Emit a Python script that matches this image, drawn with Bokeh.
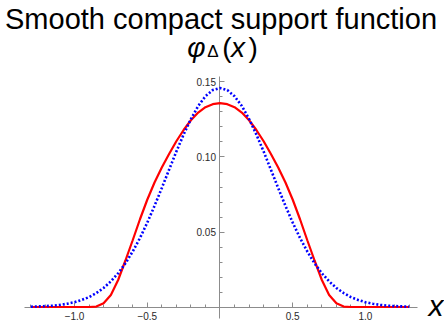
from bokeh.plotting import figure
from bokeh.models import FixedTicker, Label, Range1d
from bokeh.embed import file_html
from bokeh.resources import INLINE

# sample positions
x_vals = [-1.3, -1.25, -1.2, -1.15, -1.1, -1.05, -1.0, -0.95, -0.9, -0.85,
          -0.8, -0.75, -0.7, -0.65, -0.6, -0.55, -0.5, -0.45, -0.4, -0.35,
          -0.3, -0.25, -0.2, -0.15, -0.1, -0.05, 0.0, 0.05, 0.1, 0.15,
          0.2, 0.25, 0.3, 0.35, 0.4, 0.45, 0.5, 0.55, 0.6, 0.65,
          0.7, 0.75, 0.8, 0.85, 0.9, 0.95, 1.0, 1.05, 1.1, 1.15,
          1.2, 1.25, 1.3]

# smooth compact support function (red, solid)
phi_compact = [0.0, 0.0, 0.0, 0.0, 0.0, 0.0, 0.0, 0.0, 0.0, 0.0003,
               0.0025, 0.0080, 0.0180, 0.0310, 0.0445, 0.0585, 0.0715, 0.0830, 0.0930, 0.1020,
               0.1105, 0.1180, 0.1245, 0.1296, 0.1332, 0.1352, 0.1359, 0.1352, 0.1332, 0.1296,
               0.1245, 0.1180, 0.1105, 0.1020, 0.0930, 0.0830, 0.0715, 0.0585, 0.0445, 0.0310,
               0.0180, 0.0080, 0.0025, 0.0003, 0.0, 0.0, 0.0, 0.0, 0.0, 0.0,
               0.0, 0.0, 0.0]

# comparison bell curve (blue, dotted)
phi_gauss = [0.0002, 0.0004, 0.0006, 0.0009, 0.0014, 0.0022, 0.0032, 0.0047, 0.0066, 0.0093,
             0.0127, 0.0171, 0.0225, 0.0291, 0.0370, 0.0460, 0.0562, 0.0674, 0.0793, 0.0915,
             0.1036, 0.1150, 0.1253, 0.1340, 0.1405, 0.1446, 0.1460, 0.1446, 0.1405, 0.1340,
             0.1253, 0.1150, 0.1036, 0.0915, 0.0793, 0.0674, 0.0562, 0.0460, 0.0370, 0.0291,
             0.0225, 0.0171, 0.0127, 0.0093, 0.0066, 0.0047, 0.0032, 0.0022, 0.0014, 0.0009,
             0.0006, 0.0004, 0.0002]

x_major_ticks = [-1.0, -0.5, 0.5, 1.0]
x_major_labels = ["\u22121.0", "\u22120.5", "0.5", "1.0"]
x_minor_ticks = [-1.3, -1.2, -1.1, -0.9, -0.8, -0.7, -0.6, -0.4, -0.3, -0.2, -0.1,
                 0.1, 0.2, 0.3, 0.4, 0.6, 0.7, 0.8, 0.9, 1.1, 1.2, 1.3]
y_major_ticks = [0.05, 0.10, 0.15]
y_major_labels = ["0.05", "0.10", "0.15"]
y_minor_ticks = [0.01, 0.02, 0.03, 0.04, 0.06, 0.07, 0.08, 0.09,
                 0.11, 0.12, 0.13, 0.14]

TITLE = "Smooth compact support function"
FONT = "Liberation Sans"

# the frame fills the whole canvas; axes are drawn through the origin
p = figure(width=444, height=322,
           x_range=Range1d(-1.5086, 1.5430), y_range=Range1d(-0.01033, 0.20433),
           output_backend="svg", toolbar_location=None,
           min_border_left=0, min_border_right=0,
           min_border_top=0, min_border_bottom=0)

p.grid.visible = False
p.outline_line_color = None
p.background_fill_color = "white"
p.border_fill_color = "white"

for ax in (p.xaxis[0], p.yaxis[0]):
    ax.fixed_location = 0
    ax.axis_line_color = "#8c8c8c"
    ax.major_tick_line_color = "#8c8c8c"
    ax.minor_tick_line_color = "#8c8c8c"
    ax.major_tick_in = 5
    ax.major_tick_out = 0
    ax.minor_tick_in = 3
    ax.minor_tick_out = 0
    ax.major_label_text_font = FONT
    ax.major_label_text_font_size = "10px"
    ax.major_label_text_color = "#2a2a2a"
    ax.level = "underlay"

p.xaxis.bounds = (-1.345, 1.36)
p.xaxis.ticker = FixedTicker(ticks=x_major_ticks, minor_ticks=x_minor_ticks)
p.xaxis.major_label_overrides = {t: l for t, l in zip(x_major_ticks, x_major_labels)}
p.xaxis.major_label_standoff = 5
p.yaxis.bounds = (-0.0078, 0.1535)
p.yaxis.ticker = FixedTicker(ticks=y_major_ticks, minor_ticks=y_minor_ticks)
p.yaxis.major_label_overrides = {t: l for t, l in zip(y_major_ticks, y_major_labels)}
p.yaxis.major_label_standoff = 4

p.line(x_vals, phi_compact, line_color="#ff0000", line_width=2.2)
p.line(x_vals, phi_gauss, line_color="#0000ff", line_width=2.6, line_dash="2 2")

# title
p.add_layout(Label(x=0.007, y=0.1923, text=TITLE, text_font=FONT,
                   text_font_style="normal", text_font_size="29px",
                   text_color="#000000", text_align="center",
                   text_baseline="alphabetic"))

# axis labels: phi_Delta(x) at top of y axis, x at right end of x axis
base_y = 0.1732
sub_y = 0.1700
parts = [
    ("\u03c6", -32.8, base_y, "italic", "28px"),
    ("\u0394", -12.8, sub_y, "normal", "17px"),
    ("(", 2.2, base_y, "normal", "28px"),
    ("x", 11, base_y, "italic", "28px"),
    (")", 28.5, base_y, "normal", "28px"),
]
for txt, xo, yy, style, size in parts:
    p.add_layout(Label(x=0, y=yy, x_offset=xo, text=txt, text_font=FONT,
                       text_font_style=style, text_font_size=size,
                       text_color="#000000", text_align="left",
                       text_baseline="alphabetic"))

p.add_layout(Label(x=1.433, y=0.001, text="x", text_font=FONT,
                   text_font_style="italic", text_font_size="30px",
                   text_color="#000000", text_align="left",
                   text_baseline="alphabetic"))

open("out.html", "w").write(file_html(p, INLINE))
